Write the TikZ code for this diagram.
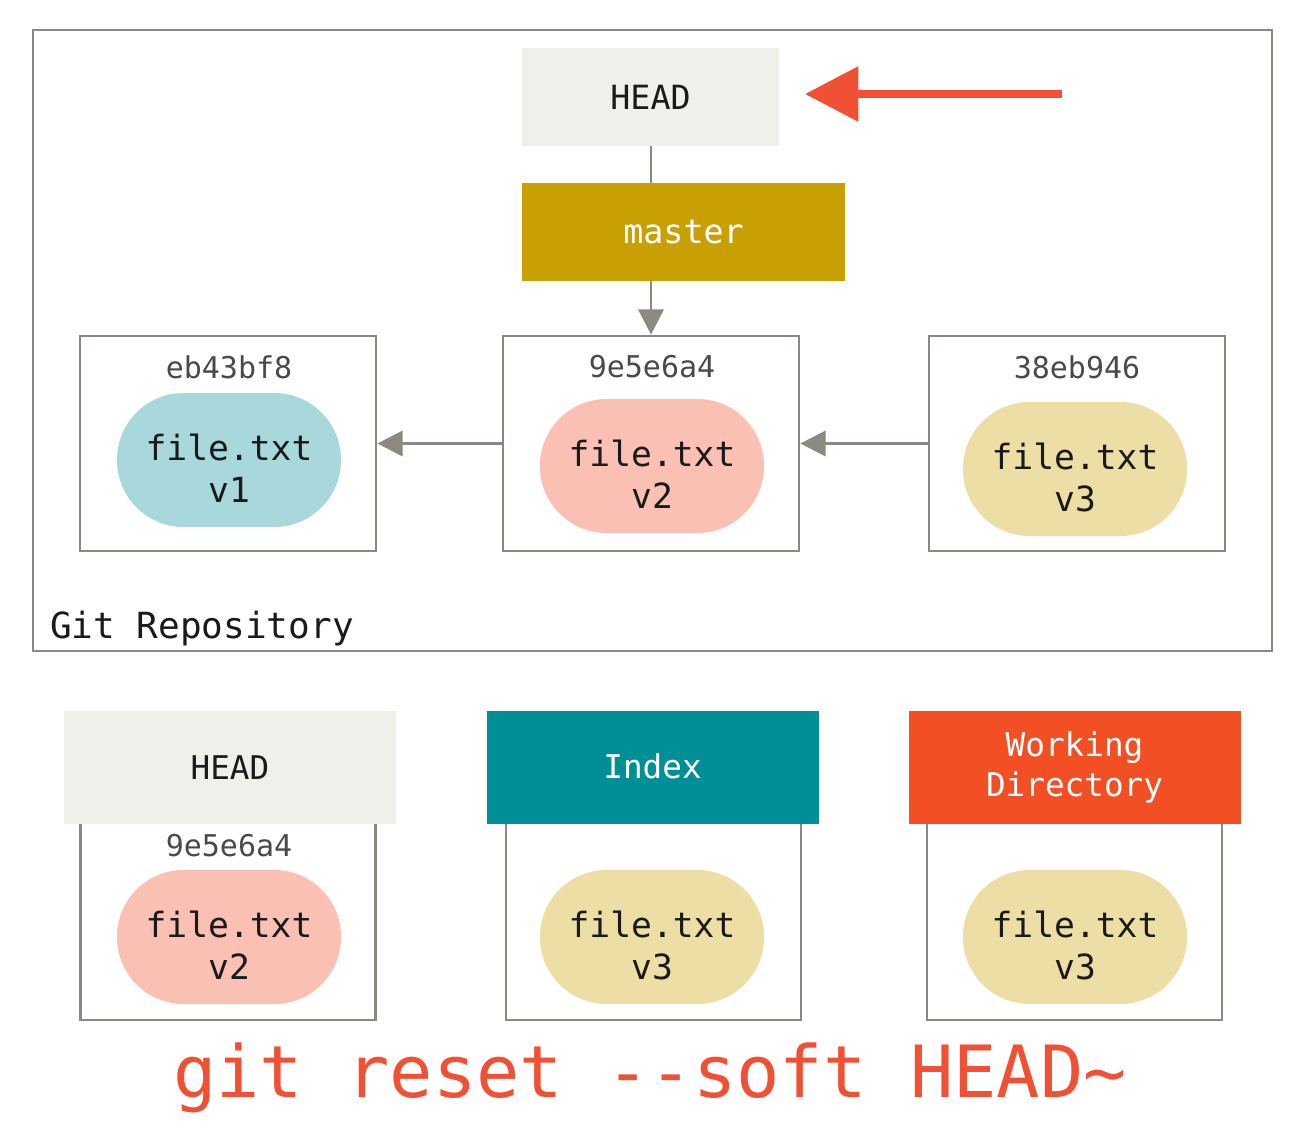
\documentclass[tikz,border=0pt]{standalone}
\usepackage{fontspec}
\setmainfont{DejaVu Sans Mono}
\usetikzlibrary{arrows.meta}
\definecolor{gline}{HTML}{8C8A80}
\definecolor{headbg}{HTML}{F0EFEA}
\definecolor{mastergold}{HTML}{C9A003}
\definecolor{gitred}{HTML}{F05033}
\definecolor{wdred}{HTML}{F34F25}
\definecolor{idxteal}{HTML}{008F96}
\definecolor{blueblob}{HTML}{A8D8DC}
\definecolor{pinkblob}{HTML}{F9C0B3}
\definecolor{yellowblob}{HTML}{EDDEA6}
\definecolor{hashgray}{HTML}{4A4A4A}
\definecolor{inktext}{HTML}{1A1A1A}
\tikzset{
  repobox/.style={draw=gline, line width=2pt, minimum width=929.25pt, minimum height=465.75pt, inner sep=0pt},
  commitbox/.style={draw=gline, line width=2pt, minimum width=222pt, minimum height=161.25pt, inner sep=0pt},
  lowbox/.style={draw=gline, line width=2pt, minimum width=221.25pt, minimum height=172.5pt, inner sep=0pt},
  labelbox/.style={inner sep=0pt, minimum width=249pt, minimum height=84.75pt, align=center,
     font=\fontsize{24.5}{30}\selectfont},
  refbox/.style={inner sep=0pt, minimum height=73.5pt, font=\fontsize{25}{30}\selectfont},
  hashlabel/.style={text=hashgray, font=\fontsize{22.5}{27}\selectfont, inner sep=0pt},
  blob/.style={rounded corners=50pt, minimum width=168pt, minimum height=100.5pt, inner sep=0pt},
  blobtext/.style={inner sep=0pt, align=center, text=inktext, font=\fontsize{26}{31.5}\selectfont},
  grayarrow/.style={draw=gline, line width=2pt, -{Triangle[length=19pt,width=19pt]}},
  grayline/.style={draw=gline, line width=2pt},
  redarrow/.style={draw=gitred, line width=6pt, -{Triangle[length=40pt,width=40pt]}},
}
\begin{document}
\begin{tikzpicture}[x=0.75pt,y=-0.75pt]
\useasboundingbox (0,0) rectangle (1302,1143);
\fill[white] (0,0) rectangle (1302,1143);

% repository frame
\node[repobox] (repo) at (652.5,340.5) {};
\node[anchor=west, inner sep=0pt, text=inktext, font=\fontsize{27}{32}\selectfont] (repolabel) at (50,629) {Git Repository};

% HEAD and master
\node[refbox, fill=headbg, minimum width=192.75pt, text=inktext] (headTop) at (650.5,97) {HEAD};
\node[refbox, fill=mastergold, minimum width=242.25pt, text=white] (master) at (683.5,232) {master};

% commits
\node[commitbox] (c1) at (228,443.5) {};
\node[commitbox] (c2) at (651,443.5) {};
\node[commitbox] (c3) at (1077,443.5) {};
\node[hashlabel] (h1) at (229,367) {eb43bf8};
\node[hashlabel] (h2) at (652,367) {9e5e6a4};
\node[hashlabel] (h3) at (1077,367) {38eb946};
\node[blob, fill=blueblob] (b1) at (229,460) {};
\node[blob, fill=pinkblob] (b2) at (652,466) {};
\node[blob, fill=yellowblob] (b3) at (1075,469) {};
\node[blobtext] (t1) at ([yshift=-6.5pt]b1.center) {file.txt\\v1};
\node[blobtext] (t2) at ([yshift=-6.5pt]b2.center) {file.txt\\v2};
\node[blobtext] (t3) at ([yshift=-6.5pt]b3.center) {file.txt\\v3};

% connectors
\draw[grayline] (headTop.south -| c2.north) -- (master.north -| c2.north);
\draw[grayarrow] (master.south -| c2.north) -- (c2.north);
\draw[grayarrow] (c2.west) -- (c1.east);
\draw[grayarrow] (c3.west) -- (c2.east);

% red arrow
\coordinate (arrowtail) at (1062,94);
\coordinate (arrowtip) at (805,94);
\draw[redarrow] (arrowtail) -- (arrowtip);

% lower row: boxes under the headers
\node[lowbox] (lb1) at (228,905) {};
\node[lowbox] (lb2) at (653.5,905) {};
\node[lowbox] (lb3) at (1074.5,905) {};
\node[labelbox, fill=headbg, text=inktext] (headBot) at (230,767.5) {HEAD};
\node[labelbox, fill=idxteal, text=white] (idx) at (652.5,767.5) {\raisebox{2pt}{Index}};
\node[labelbox, fill=wdred, text=white] (wd) at (1074.5,767.5) {Working\\Directory};
\node[hashlabel] (h4) at (229,846) {9e5e6a4};
\node[blob, fill=pinkblob] (b4) at (229,937) {};
\node[blob, fill=yellowblob] (b5) at (652,937) {};
\node[blob, fill=yellowblob] (b6) at (1075,937) {};
\node[blobtext] (t4) at ([yshift=-6.5pt]b4.center) {file.txt\\v2};
\node[blobtext] (t5) at ([yshift=-6.5pt]b5.center) {file.txt\\v3};
\node[blobtext] (t6) at ([yshift=-6.5pt]b6.center) {file.txt\\v3};

% command
\node[text=gitred, inner sep=0pt, font=\fontsize{54}{60}\selectfont] (cmd) at (650,1078) {git reset -{}-soft HEAD\char"007E};
\end{tikzpicture}
\end{document}
